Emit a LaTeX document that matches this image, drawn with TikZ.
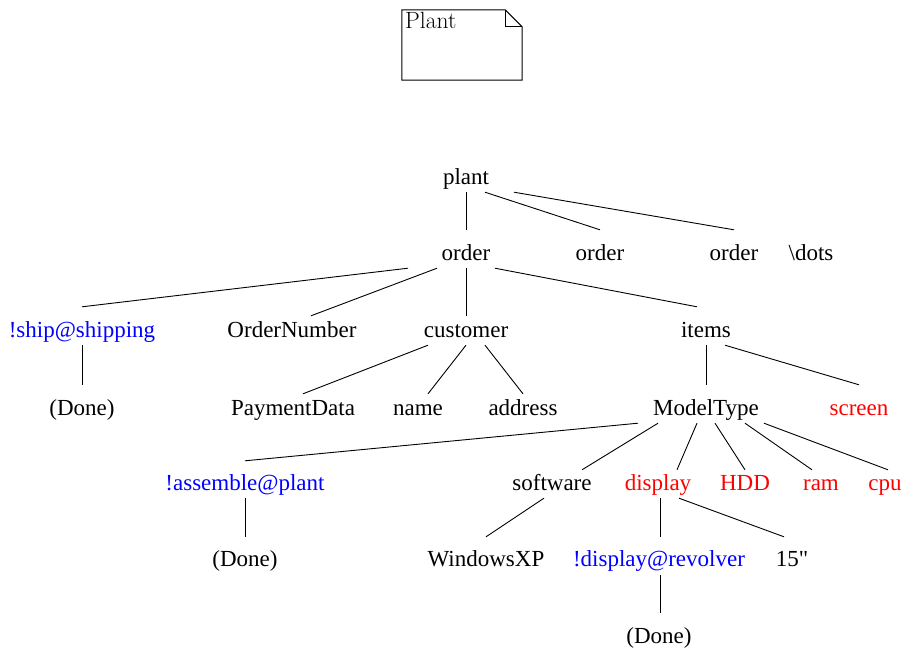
\documentclass[tikz,border=0pt]{standalone}
\usepackage{fontspec}
\newfontfamily\tfont{Liberation Serif}
\newfontfamily\lmfont{Latin Modern Roman}
\tikzset{
  tn/.style={inner sep=0pt, anchor=base, text height=30pt, text depth=8pt,
             font=\tfont\fontsize{23}{27}\selectfont},
  sh/.style={text height=21pt},
  blu/.style={text=blue},
  rd/.style={text=red},
  edge/.style={line width=0.9pt, black},
  notebox/.style={draw=none, minimum width=120pt, minimum height=70pt, inner sep=0pt},
  noteline/.style={line width=1pt, black, line join=miter}
}
\begin{document}
\begin{tikzpicture}[x=1pt, y=-1pt]
\useasboundingbox (0,0) rectangle (906,648);
% note
\node[notebox] (note) at (462,45) {};
\draw[noteline] (note.north west) -- ([xshift=-17pt]note.north east)
  -- ([yshift=-17pt]note.north east) -- (note.south east) -- (note.south west) -- cycle;
\draw[noteline] ([xshift=-17pt]note.north east) -- ([xshift=-17pt,yshift=-17pt]note.north east)
  -- ([yshift=-17pt]note.north east);
\node[inner sep=0pt, anchor=base west, font=\lmfont\fontsize{23.5}{27}\selectfont] (notetext) at (405,28) {Plant};
% tree nodes
\node[tn] (plant) at (466,184) {plant};
\node[tn] (o1) at (466,260) {order};
\node[tn] (o2) at (600,260) {order};
\node[tn] (o3) at (734,260) {order};
\node[tn] (dots) at (811,260) {\textbackslash dots};
\node[tn,blu] (ship) at (82,337) {!ship@shipping};
\node[tn,sh] (onum) at (292,337) {OrderNumber};
\node[tn,sh] (cust) at (466,337) {customer};
\node[tn] (items) at (706,337) {items};
\node[tn] (done1) at (82,415) {(Done)};
\node[tn,sh] (pay) at (293,415) {PaymentData};
\node[tn,sh] (name) at (418,415) {name};
\node[tn,sh] (addr) at (523,415) {address};
\node[tn] (model) at (706,415) {ModelType};
\node[tn,rd] (screen) at (859,415) {screen};
\node[tn,blu,text height=29pt] (asm) at (245,490) {!assemble@plant};
\node[tn,sh,text height=20pt] (soft) at (552,490) {software};
\node[tn,sh,text height=20pt,rd] (disp) at (658,490) {display};
\node[tn,sh,text height=20pt,rd] (hdd) at (745,490) {HDD};
\node[tn,sh,text height=20pt,rd] (ram) at (821,490) {ram};
\node[tn,sh,text height=20pt,rd] (cpu) at (885,490) {cpu};
\node[tn,text height=29pt,text depth=9pt] (done2) at (245,566) {(Done)};
\node[tn,text height=29pt,text depth=9pt] (win) at (486,566) {WindowsXP};
\node[tn,blu,text height=29pt,text depth=9pt] (rev) at (659,566) {!display@revolver};
\node[tn,text height=29pt,text depth=9pt] (inch) at (792,566) {15"};
\node[tn] (done3) at (659,643) {(Done)};
% edges
\draw[edge] (plant.south) -- (o1.north);
\draw[edge] ([xshift=19pt]plant.south) -- (o2.north);
\draw[edge] ([xshift=48pt]plant.south) -- (o3.north);
\draw[edge] ([xshift=-58pt]o1.south) -- (ship.north);
\draw[edge] ([xshift=-29pt]o1.south) -- ([xshift=19pt]onum.north);
\draw[edge] (o1.south) -- (cust.north);
\draw[edge] ([xshift=29pt]o1.south) -- ([xshift=-9pt]items.north);
\draw[edge] (ship.south) -- (done1.north);
\draw[edge] ([xshift=-38pt]cust.south) -- ([xshift=10pt]pay.north);
\draw[edge] (cust.south) -- ([xshift=10pt]name.north);
\draw[edge] ([xshift=19pt]cust.south) -- (addr.north);
\draw[edge] (items.south) -- (model.north);
\draw[edge] ([xshift=19pt]items.south) -- (screen.north);
\draw[edge] ([xshift=-68pt]model.south) -- (asm.north);
\draw[edge] ([xshift=-48pt]model.south) -- ([xshift=30pt]soft.north);
\draw[edge] ([xshift=-9pt]model.south) -- ([xshift=19pt]disp.north);
\draw[edge] ([xshift=9pt]model.south) -- (hdd.north);
\draw[edge] ([xshift=39pt]model.south) -- ([xshift=-9pt]ram.north);
\draw[edge] ([xshift=58pt]model.south) -- ([xshift=3pt]cpu.north);
\draw[edge] (asm.south) -- (done2.north);
\draw[edge] ([xshift=-8pt]soft.south) -- (win.north);
\draw[edge] ([xshift=2pt]disp.south) -- ([xshift=1pt]rev.north);
\draw[edge] ([xshift=21pt]disp.south) -- ([xshift=-8pt]inch.north);
\draw[edge] ([xshift=1pt]rev.south) -- ([xshift=1pt]done3.north);
\end{tikzpicture}
\end{document}
